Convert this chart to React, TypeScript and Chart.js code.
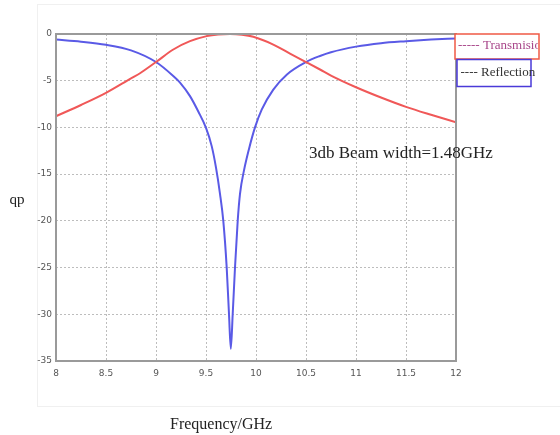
import React, { useEffect, useRef } from "react";
import { Chart, registerables } from "chart.js";

Chart.register(...registerables);

const transFreq = [8.0, 8.25, 8.5, 8.75, 8.84, 9.0, 9.173, 9.34, 9.507, 9.62, 9.74, 9.86, 9.973, 10.173, 10.34, 10.5, 10.64, 10.75, 11.0, 11.25, 11.5, 11.75, 12.0];
const transDb = [-8.8, -7.6, -6.3, -4.75, -4.2, -3.0, -1.66, -0.77, -0.23, -0.05, 0.0, -0.08, -0.3, -1.13, -2.1, -3.0, -3.8, -4.45, -5.7, -6.8, -7.8, -8.65, -9.45];

const reflFreq = [8.0, 8.25, 8.5, 8.75, 9.0, 9.173, 9.24, 9.34, 9.423, 9.5, 9.557, 9.6, 9.64, 9.673, 9.707, 9.73, 9.748, 9.767, 9.79, 9.817, 9.84, 9.88, 9.93, 9.99, 10.057, 10.173, 10.307, 10.5, 10.64, 10.75, 11.0, 11.25, 11.5, 11.75, 12.0];
const reflDb = [-0.6, -0.82, -1.15, -1.75, -3.0, -4.5, -5.2, -6.65, -8.3, -10.05, -12.0, -14.3, -17.1, -20.0, -25.0, -30.0, -33.7, -30.0, -25.0, -20.0, -17.1, -14.6, -12.3, -10.0, -8.1, -5.95, -4.35, -3.0, -2.35, -1.95, -1.35, -0.98, -0.77, -0.6, -0.48];

const xTicks = [8, 8.5, 9, 9.5, 10, 10.5, 11, 11.5, 12];
const yTicks = [0, -5, -10, -15, -20, -25, -30, -35];

const legendLabels = ["----- Transmision", "---- Reflection"];
const annotationText = "3db Beam width=1.48GHz";
const xTitle = "Frequency/GHz";
const yTitle = "db";

const decorPlugin = {
  id: "decor",
  beforeDraw(chart: any) {
    const ctx = chart.ctx;
    ctx.save();
    ctx.strokeStyle = "#f0f0f0";
    ctx.lineWidth = 1;
    ctx.strokeRect(37.5, 4.5, 540, 402);
    ctx.restore();
  },
  afterDraw(chart: any) {
    const ctx = chart.ctx;
    const a = chart.chartArea;
    ctx.save();
    ctx.strokeStyle = "#9a9a9a";
    ctx.lineWidth = 2;
    ctx.strokeRect(a.left, a.top, a.right - a.left, a.bottom - a.top);

    ctx.fillStyle = "#ffffff";
    ctx.fillRect(455, 34, 84, 25);
    ctx.strokeStyle = "#f05a45";
    ctx.lineWidth = 1.5;
    ctx.strokeRect(455, 34, 84, 25);
    ctx.save();
    ctx.beginPath();
    ctx.rect(455, 34, 83, 25);
    ctx.clip();
    ctx.font = "13px 'Liberation Serif', serif";
    ctx.textBaseline = "middle";
    ctx.textAlign = "left";
    ctx.fillStyle = "#a8468a";
    ctx.fillText(legendLabels[0], 458, 46);
    ctx.restore();

    ctx.fillStyle = "#ffffff";
    ctx.fillRect(457, 59.5, 74, 27);
    ctx.strokeStyle = "#4a3ad8";
    ctx.lineWidth = 1.5;
    ctx.strokeRect(457, 59.5, 74, 27);
    ctx.font = "13px 'Liberation Serif', serif";
    ctx.textBaseline = "middle";
    ctx.fillStyle = "#333333";
    ctx.fillText(legendLabels[1], 460.5, 73);

    ctx.font = "17px 'Liberation Serif', serif";
    ctx.textBaseline = "alphabetic";
    ctx.fillStyle = "#222222";
    ctx.fillText(annotationText, 309, 158);

    ctx.font = "16px 'Liberation Serif', serif";
    ctx.fillText(xTitle, 170, 429);

    ctx.translate(17, 201);
    ctx.rotate(Math.PI);
    ctx.font = "15px 'Liberation Serif', serif";
    ctx.textAlign = "center";
    ctx.textBaseline = "middle";
    ctx.fillText(yTitle, 0, 0);
    ctx.restore();
  },
};

export default function App() {
  const ref = useRef<HTMLCanvasElement>(null);
  useEffect(() => {
    document.body.style.margin = "0";
    const c = ref.current!;
    const chart = new Chart(c, {
      type: "line",
      data: {
        datasets: [
          {
            label: "Transmision",
            data: transFreq.map((x, i) => ({ x, y: transDb[i] })),
            borderColor: "#f05858",
            borderWidth: 2,
            pointRadius: 0,
            cubicInterpolationMode: "monotone",
          },
          {
            label: "Reflection",
            data: reflFreq.map((x, i) => ({ x, y: reflDb[i] })),
            borderColor: "#5a5ae6",
            borderWidth: 2,
            pointRadius: 0,
            cubicInterpolationMode: "monotone",
          },
        ],
      },
      plugins: [decorPlugin],
      options: {
        animation: false,
        responsive: false,
        maintainAspectRatio: false,
        layout: { padding: { left: 0, top: 34, right: 104, bottom: 0 } },
        plugins: { legend: { display: false }, tooltip: { enabled: false } },
        scales: {
          x: {
            type: "linear",
            min: 8,
            max: 12,
            afterBuildTicks: (s: any) => {
              s.ticks = xTicks.map((v) => ({ value: v }));
            },
            afterFit: (s: any) => {
              s.height = 74;
            },
            grid: { color: "#bdbdbd", drawTicks: false, lineWidth: 1 },
            border: { display: false, dash: [2, 2] },
            ticks: {
              padding: 7,
              color: "#555",
              font: { size: 9, family: "'DejaVu Sans', sans-serif" },
              callback: (v: any) => String(v),
              maxRotation: 0,
            },
          },
          y: {
            type: "linear",
            min: -35,
            max: 0,
            afterBuildTicks: (s: any) => {
              s.ticks = yTicks.map((v) => ({ value: v }));
            },
            afterFit: (s: any) => {
              s.width = 56;
            },
            grid: { color: "#bdbdbd", drawTicks: false, lineWidth: 1 },
            border: { display: false, dash: [2, 2] },
            ticks: {
              padding: 4,
              color: "#555",
              font: { size: 9, family: "'DejaVu Sans', sans-serif" },
              callback: (v: any) => String(v),
            },
          },
        },
      },
    } as any);
    return () => chart.destroy();
  }, []);
  return (
    <div style={{ position: "absolute", left: 0, top: 0, width: 560, height: 435 }}>
      <canvas ref={ref} width={560} height={435} style={{ display: "block", width: 560, height: 435 }} />
    </div>
  );
}
